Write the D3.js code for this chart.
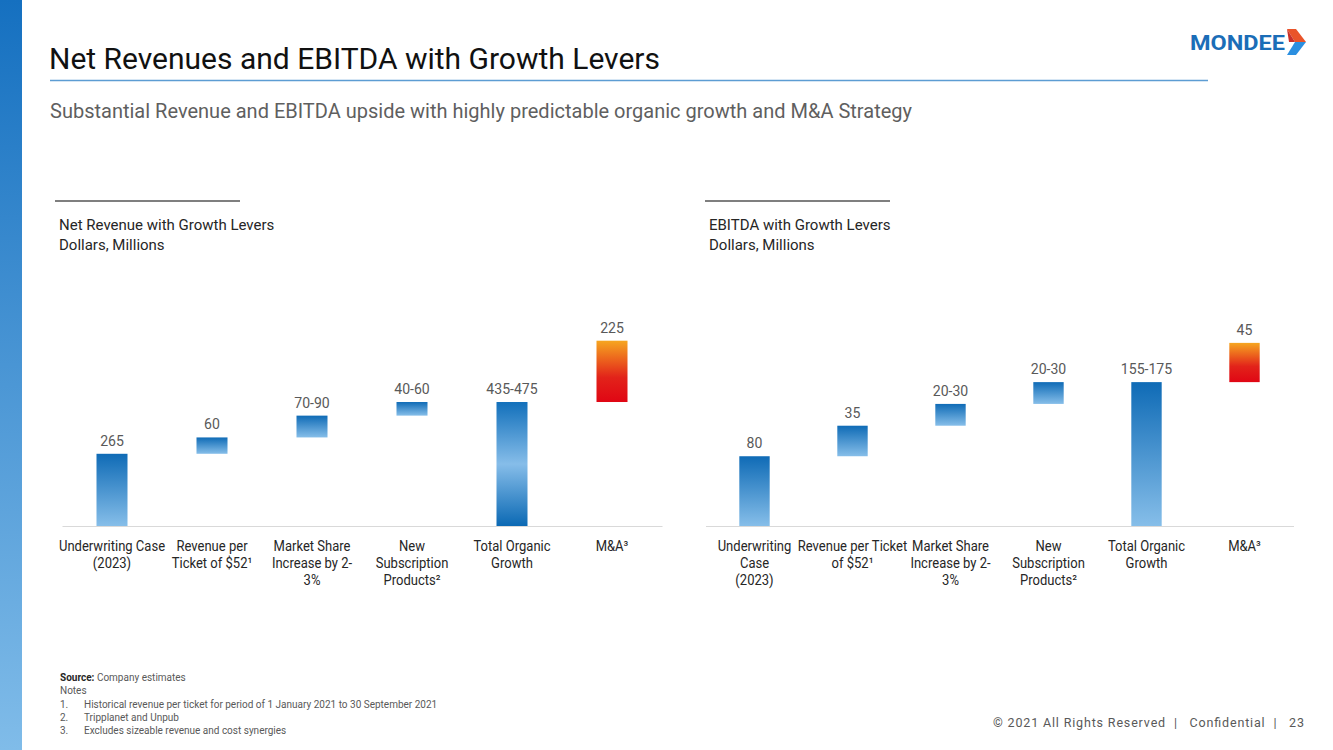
<!DOCTYPE html>
<html>
<head>
<meta charset="utf-8">
<script src="https://cdn.jsdelivr.net/npm/d3@7"></script>
<style>
  html, body { margin: 0; padding: 0; background: #fff; }
  svg { display: block; }
  text { font-family: Roboto, "Noto Sans", sans-serif; }
</style>
</head>
<body>
<svg id="chart" width="1333" height="750"></svg>
<script>
// ---------- DATA ----------
const revCategories = [
  ["Underwriting Case", "(2023)"],
  ["Revenue per", "Ticket of $52¹"],
  ["Market Share", "Increase by 2-", "3%"],
  ["New", "Subscription", "Products²"],
  ["Total Organic", "Growth"],
  ["M&A³"]
];
const revLabels = ["265", "60", "70-90", "40-60", "435-475", "225"];
const revValues = [265, 60, 80, 50, 455, 225];   // range midpoints
const revTypes  = ["base", "step", "step", "step", "total", "mna"];

const ebitdaCategories = [
  ["Underwriting", "Case", "(2023)"],
  ["Revenue per Ticket", "of $52¹"],
  ["Market Share", "Increase by 2-", "3%"],
  ["New", "Subscription", "Products²"],
  ["Total Organic", "Growth"],
  ["M&A³"]
];
const ebitdaLabels = ["80", "35", "20-30", "20-30", "155-175", "45"];
const ebitdaValues = [80, 35, 25, 25, 165, 45];
const ebitdaTypes  = ["base", "step", "step", "step", "total", "mna"];

const revDomainMax = 800;
const ebitdaDomainMax = 250;

const notes = [
  "Historical revenue per ticket for period of 1 January 2021 to 30 September 2021",
  "Tripplanet and Unpub",
  "Excludes sizeable revenue and cost synergies"
];

// ---------- SVG ----------
const svg = d3.select("#chart");
const defs = svg.append("defs");
const CONDENSE = 0.93;

function condense(sel, f) {
  sel.each(function() {
    const w = this.getComputedTextLength();
    d3.select(this).attr("textLength", w * f).attr("lengthAdjust", "spacingAndGlyphs");
  });
}

function linGrad(id, stops) {
  const g = defs.append("linearGradient").attr("id", id)
    .attr("x1", 0).attr("y1", 0).attr("x2", 0).attr("y2", 1);
  stops.forEach(s => g.append("stop").attr("offset", s[0]).attr("stop-color", s[1]));
}
linGrad("gBlue", [[0, "#0f6bb6"], [1, "#86bee9"]]);
linGrad("gTotalL", [[0, "#1270bb"], [0.5, "#86bde9"], [1, "#0b69b4"]]);
linGrad("gTotalR", [[0, "#0f6bb6"], [1, "#86bee9"]]);
linGrad("gMna", [[0, "#f6a620"], [0.6, "#e2231a"], [1, "#e00614"]]);
linGrad("gStrip", [[0, "#1570c0"], [1, "#80bce9"]]);

// left strip
svg.append("rect").attr("x", 0).attr("y", 0).attr("width", 22).attr("height", 750)
  .attr("fill", "url(#gStrip)");

// title
svg.append("text").attr("x", 49).attr("y", 69)
  .attr("font-size", 30).attr("fill", "#111")
  .attr("textLength", 611).attr("lengthAdjust", "spacingAndGlyphs")
  .text("Net Revenues and EBITDA with Growth Levers");
svg.append("line").attr("x1", 50).attr("x2", 1208).attr("y1", 80.5).attr("y2", 80.5)
  .attr("stroke", "#5d9dd3").attr("stroke-width", 1.5);
svg.append("text").attr("x", 50).attr("y", 118)
  .attr("font-size", 20).attr("fill", "#5f5f5f")
  .attr("textLength", 862).attr("lengthAdjust", "spacingAndGlyphs")
  .text("Substantial Revenue and EBITDA upside with highly predictable organic growth and M&A Strategy");

// logo
svg.append("text").attr("x", 1190).attr("y", 50)
  .attr("font-size", 20).attr("font-weight", "bold").attr("fill", "#1b6db7")
  .attr("font-family", "'DejaVu Sans', sans-serif")
  .attr("textLength", 95).attr("lengthAdjust", "spacingAndGlyphs")
  .text("MONDEE");
svg.append("polygon").attr("points", "1287,29 1296,29 1306,42 1295,42").attr("fill", "#e9542a");
svg.append("polygon").attr("points", "1287,29 1295,42 1289,42").attr("fill", "#c9302a");
svg.append("polygon").attr("points", "1295,42 1306,42 1296,55 1287,55").attr("fill", "#2b8fe0");

// ---------- CHARTS ----------
function drawWaterfall(opts) {
  const { x0, x1, categories, labels, values, types, domainMax, title, gradTotal, hx } = opts;
  const yBase = 526, yTop = 308;
  const g = svg.append("g");

  const x = d3.scaleBand().domain(d3.range(categories.length)).range([x0, x1]).paddingInner(0.69).paddingOuter(0.345);
  const y = d3.scaleLinear().domain([0, domainMax]).range([yBase, yTop]);

  // waterfall starts/ends
  let run = 0;
  const bars = values.map((v, i) => {
    let s, e;
    if (types[i] === "base") { s = 0; e = v; run = v; }
    else if (types[i] === "total") { s = 0; e = run; }
    else { s = run; e = run + v; run = e; }
    return { i, s, e, label: labels[i], type: types[i] };
  });

  // header
  g.append("line").attr("x1", hx).attr("x2", hx + 185)
    .attr("y1", 201).attr("y2", 201).attr("stroke", "#7f7f7f").attr("stroke-width", 2);
  g.append("text").attr("x", hx + 4).attr("y", 229.5).attr("font-size", 15).attr("fill", "#262626").text(title);
  g.append("text").attr("x", hx + 4).attr("y", 249.5).attr("font-size", 15).attr("fill", "#262626").text("Dollars, Millions");

  // axis
  const axis = g.append("g").attr("transform", `translate(0,${yBase})`)
    .call(d3.axisBottom(x).tickSize(0).tickFormat(""));
  axis.select(".domain").attr("stroke", "#d9d9d9").attr("stroke-width", 1.2);
  axis.selectAll(".tick").each(function(d) {
    const tick = d3.select(this);
    tick.select("text").remove();
    categories[d].forEach((line, k) => {
      tick.append("text")
        .attr("x", 0).attr("y", 25 + k * 17)
        .attr("font-size", 14).attr("fill", "#262626")
        .attr("font-family", "Roboto, sans-serif")
        .attr("text-anchor", "middle")
        .text(line);
    });
    condense(tick.selectAll("text"), CONDENSE);
  });

  // bars
  g.selectAll("rect.bar").data(bars).enter().append("rect")
    .attr("class", "bar")
    .attr("x", d => x(d.i))
    .attr("width", x.bandwidth())
    .attr("y", d => y(d.e))
    .attr("height", d => y(d.s) - y(d.e))
    .attr("fill", d => d.type === "mna" ? "url(#gMna)" : d.type === "total" ? `url(#${gradTotal})` : "url(#gBlue)");

  // value labels
  const vl = g.selectAll("text.val").data(bars).enter().append("text")
    .attr("class", "val")
    .attr("x", d => x(d.i) + x.bandwidth() / 2)
    .attr("y", d => y(d.e) - 8)
    .attr("text-anchor", "middle")
    .attr("font-size", 14.5).attr("fill", "#595959")
    .text(d => d.label);
  condense(vl, 0.97);
}

drawWaterfall({
  x0: 62, x1: 662, categories: revCategories, labels: revLabels, values: revValues,
  types: revTypes, domainMax: revDomainMax, title: "Net Revenue with Growth Levers",
  gradTotal: "gTotalL", hx: 55
});
drawWaterfall({
  x0: 705.5, x1: 1293.5, categories: ebitdaCategories, labels: ebitdaLabels, values: ebitdaValues,
  types: ebitdaTypes, domainMax: ebitdaDomainMax, title: "EBITDA with Growth Levers",
  gradTotal: "gTotalR", hx: 705
});

// ---------- FOOTNOTES ----------
const fn = svg.append("g").attr("font-size", 10).attr("fill", "#595959");
const src = fn.append("text").attr("x", 60).attr("y", 681);
src.append("tspan").attr("font-weight", "bold").attr("fill", "#262626").text("Source:");
src.append("tspan").text(" Company estimates");
fn.append("text").attr("x", 60).attr("y", 694).text("Notes");
notes.forEach((n, i) => {
  fn.append("text").attr("x", 60).attr("y", 708 + i * 13).text((i + 1) + ".");
  fn.append("text").attr("x", 84).attr("y", 708 + i * 13).text(n);
});

// footer
svg.append("text").attr("x", 993).attr("y", 727)
  .attr("font-size", 12.5).attr("fill", "#595959")
  .attr("xml:space", "preserve")
  .attr("textLength", 311).attr("lengthAdjust", "spacing")
  .text("© 2021 All Rights Reserved  |   Confidential  |   23");
</script>
</body>
</html>
